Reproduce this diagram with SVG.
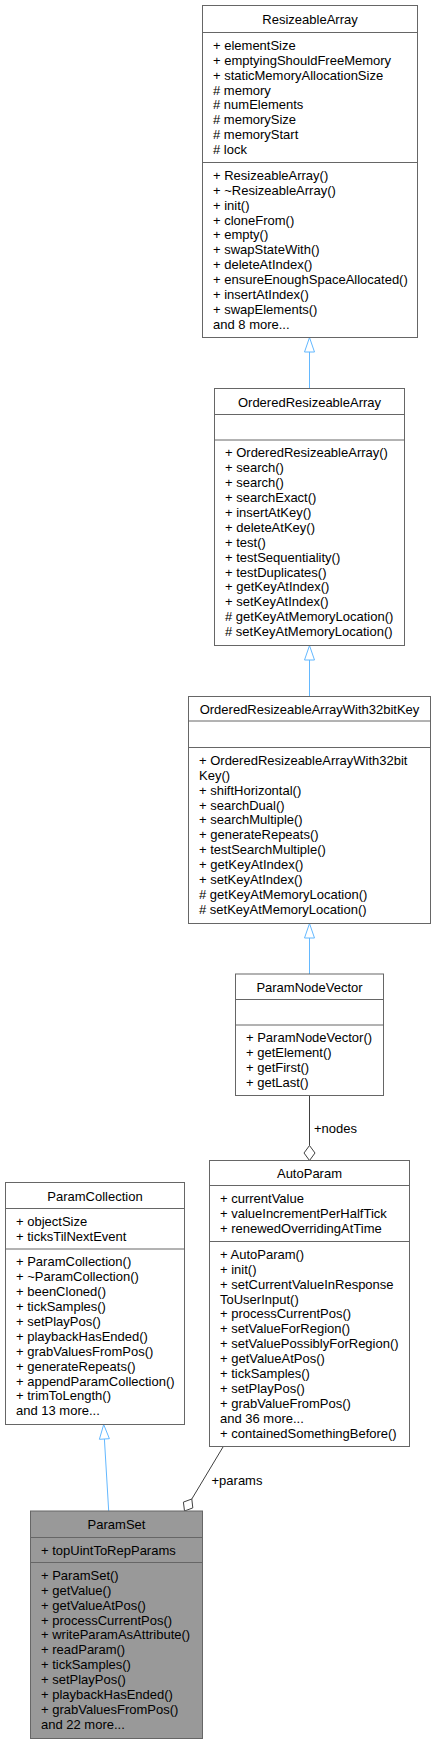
<svg xmlns="http://www.w3.org/2000/svg" width="436" height="1745" viewBox="0 0 436 1745">
<style>
text{font-family:"Liberation Sans",Arial,Helvetica,sans-serif;font-size:13px;fill:#000}
.t{text-anchor:middle}
.box{fill:#fff;stroke:#666;stroke-width:1}
.cur{fill:#999;stroke:#666;stroke-width:1}
.sep{stroke:#666;stroke-width:1}
.inh{fill:none;stroke:#63b8ff;stroke-width:1}
.inhh{fill:#fff;stroke:#63b8ff;stroke-width:1}
.agg{fill:none;stroke:#404040;stroke-width:1}
.aggh{fill:#fff;stroke:#404040;stroke-width:1}
</style>
<rect width="436" height="1745" fill="#fff"/>
<g id="connectors">
<line class="inh" x1="309.5" y1="352" x2="309.5" y2="388.5"/>
<polygon class="inhh" points="309.5,337.5 314.5,352 304.5,352"/>
<line class="inh" x1="309.5" y1="660" x2="309.5" y2="696.5"/>
<polygon class="inhh" points="309.5,645.5 314.5,660 304.5,660"/>
<line class="inh" x1="309.5" y1="938" x2="309.5" y2="974"/>
<polygon class="inhh" points="309.5,923.5 314.5,938 304.5,938"/>
<line class="agg" x1="309.5" y1="1095.5" x2="309.5" y2="1145.5"/>
<polygon class="aggh" points="309.5,1145.5 315,1153 309.5,1160.5 304,1153"/>
<text x="314" y="1133">+nodes</text>
<line class="agg" x1="223.3" y1="1446.5" x2="191.8" y2="1499"/>
<polygon class="aggh" points="191.8,1499 192.8,1507.9 184.5,1511 183.4,1502.1"/>
<text x="211.5" y="1485">+params</text>
<line class="inh" x1="104.4" y1="1439" x2="108.7" y2="1511"/>
<polygon class="inhh" points="103.7,1424.5 109.4,1438.7 99.4,1439.3"/>
</g>
<g id="ResizeableArray">
<rect class="box" x="202.5" y="5.5" width="215" height="332"/>
<line class="sep" x1="202.5" y1="32.5" x2="417.5" y2="32.5"/>
<line class="sep" x1="202.5" y1="162.5" x2="417.5" y2="162.5"/>
<text class="t" x="310" y="24">ResizeableArray</text>
<text x="213" y="49.8"><tspan x="213">+ elementSize</tspan><tspan x="213" dy="14.9">+ emptyingShouldFreeMemory</tspan><tspan x="213" dy="14.9">+ staticMemoryAllocationSize</tspan><tspan x="213" dy="14.9"># memory</tspan><tspan x="213" dy="14.9"># numElements</tspan><tspan x="213" dy="14.9"># memorySize</tspan><tspan x="213" dy="14.9"># memoryStart</tspan><tspan x="213" dy="14.9"># lock</tspan></text>
<text x="213" y="179.8"><tspan x="213">+ ResizeableArray()</tspan><tspan x="213" dy="14.9">+ ~ResizeableArray()</tspan><tspan x="213" dy="14.9">+ init()</tspan><tspan x="213" dy="14.9">+ cloneFrom()</tspan><tspan x="213" dy="14.9">+ empty()</tspan><tspan x="213" dy="14.9">+ swapStateWith()</tspan><tspan x="213" dy="14.9">+ deleteAtIndex()</tspan><tspan x="213" dy="14.9">+ ensureEnoughSpaceAllocated()</tspan><tspan x="213" dy="14.9">+ insertAtIndex()</tspan><tspan x="213" dy="14.9">+ swapElements()</tspan><tspan x="213" dy="14.9">and 8 more...</tspan></text>
</g>
<g id="OrderedResizeableArray">
<rect class="box" x="214.5" y="388.5" width="190" height="257"/>
<line class="sep" x1="214.5" y1="414.5" x2="404.5" y2="414.5"/>
<line class="sep" x1="214.5" y1="440" x2="404.5" y2="440"/>
<text class="t" x="309.5" y="406.5">OrderedResizeableArray</text>
<text x="225" y="457.3"><tspan x="225">+ OrderedResizeableArray()</tspan><tspan x="225" dy="14.9">+ search()</tspan><tspan x="225" dy="14.9">+ search()</tspan><tspan x="225" dy="14.9">+ searchExact()</tspan><tspan x="225" dy="14.9">+ insertAtKey()</tspan><tspan x="225" dy="14.9">+ deleteAtKey()</tspan><tspan x="225" dy="14.9">+ test()</tspan><tspan x="225" dy="14.9">+ testSequentiality()</tspan><tspan x="225" dy="14.9">+ testDuplicates()</tspan><tspan x="225" dy="14.9">+ getKeyAtIndex()</tspan><tspan x="225" dy="14.9">+ setKeyAtIndex()</tspan><tspan x="225" dy="14.9"># getKeyAtMemoryLocation()</tspan><tspan x="225" dy="14.9"># setKeyAtMemoryLocation()</tspan></text>
</g>
<g id="OrderedResizeableArrayWith32bitKey">
<rect class="box" x="188.5" y="696.5" width="242" height="227"/>
<line class="sep" x1="188.5" y1="721" x2="430.5" y2="721"/>
<line class="sep" x1="188.5" y1="747.5" x2="430.5" y2="747.5"/>
<text class="t" x="309.5" y="713.8">OrderedResizeableArrayWith32bitKey</text>
<text x="199" y="764.8"><tspan x="199">+ OrderedResizeableArrayWith32bit</tspan><tspan x="199" dy="14.9">Key()</tspan><tspan x="199" dy="14.9">+ shiftHorizontal()</tspan><tspan x="199" dy="14.9">+ searchDual()</tspan><tspan x="199" dy="14.9">+ searchMultiple()</tspan><tspan x="199" dy="14.9">+ generateRepeats()</tspan><tspan x="199" dy="14.9">+ testSearchMultiple()</tspan><tspan x="199" dy="14.9">+ getKeyAtIndex()</tspan><tspan x="199" dy="14.9">+ setKeyAtIndex()</tspan><tspan x="199" dy="14.9"># getKeyAtMemoryLocation()</tspan><tspan x="199" dy="14.9"># setKeyAtMemoryLocation()</tspan></text>
</g>
<g id="ParamNodeVector">
<rect class="box" x="235.5" y="974" width="148" height="121.5"/>
<line class="sep" x1="235.5" y1="999.5" x2="383.5" y2="999.5"/>
<line class="sep" x1="235.5" y1="1025" x2="383.5" y2="1025"/>
<text class="t" x="309.5" y="991.8">ParamNodeVector</text>
<text x="246" y="1042.3"><tspan x="246">+ ParamNodeVector()</tspan><tspan x="246" dy="14.9">+ getElement()</tspan><tspan x="246" dy="14.9">+ getFirst()</tspan><tspan x="246" dy="14.9">+ getLast()</tspan></text>
</g>
<g id="AutoParam">
<rect class="box" x="209.5" y="1160.5" width="200" height="286"/>
<line class="sep" x1="209.5" y1="1185.5" x2="409.5" y2="1185.5"/>
<line class="sep" x1="209.5" y1="1241.5" x2="409.5" y2="1241.5"/>
<text class="t" x="309.5" y="1178">AutoParam</text>
<text x="220" y="1202.8"><tspan x="220">+ currentValue</tspan><tspan x="220" dy="14.9">+ valueIncrementPerHalfTick</tspan><tspan x="220" dy="14.9">+ renewedOverridingAtTime</tspan></text>
<text x="220" y="1258.8"><tspan x="220">+ AutoParam()</tspan><tspan x="220" dy="14.9">+ init()</tspan><tspan x="220" dy="14.9">+ setCurrentValueInResponse</tspan><tspan x="220" dy="14.9">ToUserInput()</tspan><tspan x="220" dy="14.9">+ processCurrentPos()</tspan><tspan x="220" dy="14.9">+ setValueForRegion()</tspan><tspan x="220" dy="14.9">+ setValuePossiblyForRegion()</tspan><tspan x="220" dy="14.9">+ getValueAtPos()</tspan><tspan x="220" dy="14.9">+ tickSamples()</tspan><tspan x="220" dy="14.9">+ setPlayPos()</tspan><tspan x="220" dy="14.9">+ grabValueFromPos()</tspan><tspan x="220" dy="14.9">and 36 more...</tspan><tspan x="220" dy="14.9">+ containedSomethingBefore()</tspan></text>
</g>
<g id="ParamCollection">
<rect class="box" x="5.5" y="1182.5" width="179" height="242"/>
<line class="sep" x1="5.5" y1="1208.5" x2="184.5" y2="1208.5"/>
<line class="sep" x1="5.5" y1="1249" x2="184.5" y2="1249"/>
<text class="t" x="95" y="1200.5">ParamCollection</text>
<text x="16" y="1225.8"><tspan x="16">+ objectSize</tspan><tspan x="16" dy="14.9">+ ticksTilNextEvent</tspan></text>
<text x="16" y="1266.3"><tspan x="16">+ ParamCollection()</tspan><tspan x="16" dy="14.9">+ ~ParamCollection()</tspan><tspan x="16" dy="14.9">+ beenCloned()</tspan><tspan x="16" dy="14.9">+ tickSamples()</tspan><tspan x="16" dy="14.9">+ setPlayPos()</tspan><tspan x="16" dy="14.9">+ playbackHasEnded()</tspan><tspan x="16" dy="14.9">+ grabValuesFromPos()</tspan><tspan x="16" dy="14.9">+ generateRepeats()</tspan><tspan x="16" dy="14.9">+ appendParamCollection()</tspan><tspan x="16" dy="14.9">+ trimToLength()</tspan><tspan x="16" dy="14.9">and 13 more...</tspan></text>
</g>
<g id="ParamSet">
<rect class="cur" x="30.5" y="1511" width="172" height="227.5"/>
<line class="sep" x1="30.5" y1="1537.5" x2="202.5" y2="1537.5"/>
<line class="sep" x1="30.5" y1="1562.5" x2="202.5" y2="1562.5"/>
<text class="t" x="116.5" y="1529.3">ParamSet</text>
<text x="41" y="1554.8">+ topUintToRepParams</text>
<text x="41" y="1579.8"><tspan x="41">+ ParamSet()</tspan><tspan x="41" dy="14.9">+ getValue()</tspan><tspan x="41" dy="14.9">+ getValueAtPos()</tspan><tspan x="41" dy="14.9">+ processCurrentPos()</tspan><tspan x="41" dy="14.9">+ writeParamAsAttribute()</tspan><tspan x="41" dy="14.9">+ readParam()</tspan><tspan x="41" dy="14.9">+ tickSamples()</tspan><tspan x="41" dy="14.9">+ setPlayPos()</tspan><tspan x="41" dy="14.9">+ playbackHasEnded()</tspan><tspan x="41" dy="14.9">+ grabValuesFromPos()</tspan><tspan x="41" dy="14.9">and 22 more...</tspan></text>
</g>
</svg>
